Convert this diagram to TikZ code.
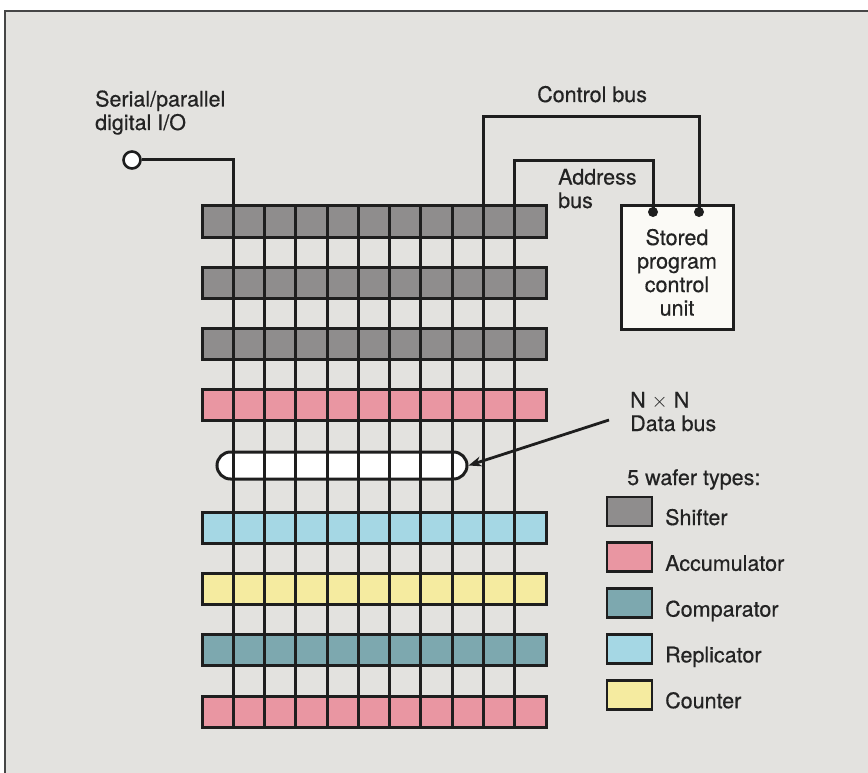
\documentclass[tikz,border=0pt]{standalone}
\usepackage{fontspec}
\setmainfont[FakeBold=0.5]{TeX Gyre Heros}
\usetikzlibrary{arrows.meta}
\definecolor{bg}{RGB}{227,226,223}
\definecolor{framec}{RGB}{70,70,70}
\definecolor{ink}{RGB}{30,30,30}
\definecolor{txt}{RGB}{35,35,35}
\definecolor{shiftc}{RGB}{143,141,141}
\definecolor{accuc}{RGB}{233,150,162}
\definecolor{compc}{RGB}{125,168,175}
\definecolor{replc}{RGB}{165,215,228}
\definecolor{countc}{RGB}{245,235,160}
\definecolor{boxc}{RGB}{251,250,246}
\tikzset{
  wire/.style={draw=ink, line width=3pt},
  wafer/.style={draw=ink, line width=3pt},
  lbl/.style={font=\fontsize{21.5}{23.5}\selectfont, text=txt, inner sep=0pt},
  swatch/.style={draw=ink, line width=2.8pt},
  bdot/.style={fill=ink}
}
\begin{document}
\begin{tikzpicture}[x=1pt,y=-1pt]
\useasboundingbox (0,0) rectangle (868,773);
\fill[white] (0,0) rectangle (868,773);
\fill[bg] (5,11.5) rectangle (868,773);
\draw[framec, line width=2pt] (5,773) -- (5,11.5) -- (868,11.5);

% wafer rows
\foreach \i/\c in {0/shiftc,1/shiftc,2/shiftc,3/accuc,5/replc,6/countc,7/compc,8/accuc}{
  \draw[wafer, fill=\c] (202,206+61.25*\i) rectangle ++(344,31);
}
% data bus
\node[draw=ink, line width=3pt, fill=white, rounded corners=13.5pt,
      minimum width=250pt, minimum height=27pt, inner sep=0pt] (dbus) at (342,465.5) {};

% vertical lines
\foreach \k in {1,...,10}{
  \coordinate (t\k) at (202+31.27*\k,206);
  \coordinate (b\k) at (202+31.27*\k,727);
  \draw[wire] (t\k) -- (b\k);
}

% serial / parallel I/O
\node[circle, draw=ink, line width=2.6pt, fill=white, minimum size=17pt, inner sep=0pt] (io) at (132,160) {};
\draw[wire] (io.east) -| (t1);
\node[lbl, anchor=base west, align=left] (iolbl) at (95,130) {Serial/parallel\\digital I/O};

% control unit
\node[draw=ink, line width=3pt, fill=boxc, minimum width=112pt, minimum height=123pt, inner sep=0pt] (ctrl) at (677,267.5) {};
\node[lbl, align=center] (ctrltxt) at (677,272.4) {Stored\\program\\control\\unit};
\coordinate (cbin) at (699,212);
\coordinate (abin) at (653,212);
\draw[wire] (t9) |- (699,117) -- (cbin);
\draw[wire] (t10) |- (653,161) -- (abin);
\fill[bdot] (cbin) circle (5pt);
\fill[bdot] (abin) circle (5pt);
\node[lbl, anchor=base west] (cblbl) at (537,102) {Control bus};
\node[lbl, anchor=base west, align=left] (ablbl) at (558,208) {Address\\bus};

% data bus label
\node[lbl, anchor=base west, align=left] (dblbl) at (630,431) {N \ensuremath{\times} N\\Data bus};
\coordinate (arrs) at (609,420);
\draw[draw=ink, line width=2.8pt, -{Stealth[length=13pt,width=10pt]}] (arrs) -- (dbus.east);

% legend
\node[lbl, anchor=base west] (legt) at (627,485) {5 wafer types:};
\foreach \j/\c/\t in {0/shiftc/Shifter,1/accuc/Accumulator,2/compc/Comparator,3/replc/Replicator,4/countc/Counter}{
  \draw[swatch, fill=\c] (607,497+45.8*\j) rectangle ++(45,29);
  \node[lbl, anchor=base west] (leg\j) at (665,525+45.8*\j) {\t};
}
\end{tikzpicture}
\end{document}
